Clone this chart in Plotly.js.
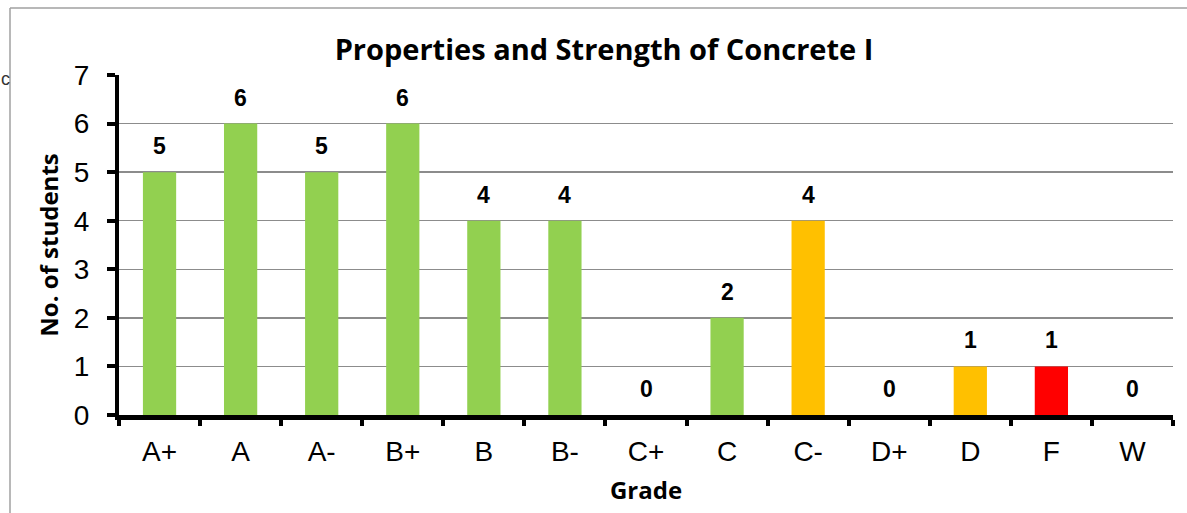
<!DOCTYPE html>
<html>
<head>
<meta charset="utf-8">
<script src="https://cdn.plot.ly/plotly-3.0.1.min.js"></script>
<style>
html,body{margin:0;padding:0;background:#fff;}
#chart{width:1187px;height:513px;}
</style>
</head>
<body>
<div id="chart"></div>
<script>
const grades = ["A+","A","A-","B+","B","B-","C+","C","C-","D+","D","F","W"];
const students = [5,6,5,6,4,4,0,2,4,0,1,1,0];
const barColors = ["#92D050","#92D050","#92D050","#92D050","#92D050","#92D050","#92D050","#92D050","#FFC000","#FFC000","#FFC000","#FF0000","#FF0000"];
const yTicks = [0,1,2,3,4,5,6,7];
const chartTitle = "Properties and Strength of Concrete I";
const xTitle = "Grade";
const yTitle = "No. of students";

const W = 1187, H = 513;
const m = {l:119, r:14, t:75, b:98};
const pw = W - m.l - m.r, ph = H - m.t - m.b;
const px = p => (p - m.l) / pw;
const py = p => 1 - (p - m.t) / ph;

const bold = "Open Sans";
const annotations = grades.map((g,i) => ({
  x: g, y: students[i], xref:'x', yref:'y',
  text: '<b>' + students[i] + '</b>', showarrow:false,
  yanchor:'bottom', yshift: 11,
  font:{family:'Liberation Sans, Arial', size:23, color:'#000'}
}));
annotations.push({
  xref:'paper', yref:'paper', x:px(0), y:py(79), xanchor:'left', yanchor:'middle',
  text:'c', showarrow:false, borderpad:0,
  font:{family:'Liberation Sans, Arial', size:18, color:'#333'}
});

const data = [{
  type:'bar', x:grades, y:students,
  marker:{color:barColors, line:{width:0}},
  hoverinfo:'none'
}];

const layout = {
  width:W, height:H,
  margin:m,
  paper_bgcolor:'#fff', plot_bgcolor:'#fff',
  bargap:0.59,
  showlegend:false,
  title:{text:'<b>'+chartTitle+'</b>', x:604/W, xref:'container', xanchor:'center', y:1-50/H, yref:'container', yanchor:'middle',
    font:{family:bold, size:29, color:'#000'}},
  xaxis:{
    type:'category', tickson:'boundaries', ticks:'outside', ticklen:6, tickwidth:4, tickcolor:'#000',
    showline:true, linecolor:'#000', linewidth:5,
    showgrid:false, zeroline:false,
    tickfont:{family:'Liberation Sans, Arial', size:28, color:'#000'},
    ticklabelstandoff:7,
    title:{text:'<b>'+xTitle+'</b>', font:{family:bold, size:24, color:'#000'}, standoff:18}
  },
  yaxis:{
    range:[0,7], tickvals:yTicks, ticks:'outside', ticklen:8, tickwidth:4, tickcolor:'#000',
    showline:true, linecolor:'#000', linewidth:4,
    showgrid:true, gridcolor:'#8c8c8c', gridwidth:1.5, zeroline:false,
    tickfont:{family:'Liberation Sans, Arial', size:28, color:'#000'},
    ticklabelstandoff:12,
    title:{text:'<b>'+yTitle+'</b>', font:{family:bold, size:24, color:'#000'}, standoff:9},
    fixedrange:true
  },
  annotations:annotations,
  shapes:[
    {type:'line', xref:'paper', yref:'paper', x0:px(10), x1:px(10), y0:py(8), y1:py(H+2), line:{color:'#a0a0a0', width:1.5}},
    {type:'line', xref:'paper', yref:'paper', x0:px(10), x1:px(W+2), y0:py(8), y1:py(8), line:{color:'#a0a0a0', width:1.5}}
  ]
};

Plotly.newPlot('chart', data, layout, {displayModeBar:false, staticPlot:true});
</script>
</body>
</html>
